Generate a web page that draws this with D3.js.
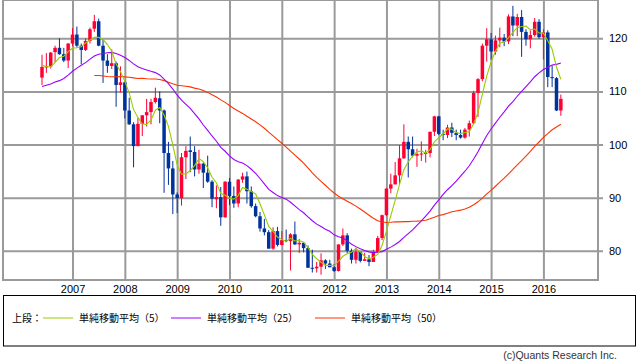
<!DOCTYPE html>
<html><head><meta charset="utf-8">
<script src="https://cdn.jsdelivr.net/npm/d3@7"></script>
<style>body{margin:0;background:#fff}svg{display:block}</style>
</head><body>
<script>
// Monthly USD/JPY candles, Jun 2006 - May 2016
const startMonth = "2006-06-01";
const opens = [112.6,114.6,114.7,117.4,118.2,117.0,115.8,119.0,120.7,118.6,117.8,119.5,121.8,123.2,118.6,115.8,114.8,115.3,111.2,111.7,106.4,103.8,99.7,103.9,105.5,106.1,108.0,108.7,106.4,98.4,95.5,90.6,89.9,97.6,98.9,98.6,95.3,96.4,94.7,93.0,89.7,90.1,86.3,93.0,90.3,88.9,93.4,94.0,91.2,88.4,86.5,84.2,83.5,80.4,83.7,81.1,82.0,81.8,83.1,81.2,81.5,80.5,76.8,76.7,77.0,78.2,77.6,76.9,76.2,81.2,82.9,80.0,78.3,79.8,78.1,78.4,77.9,79.8,82.4,86.7,91.7,92.5,94.2,97.4,100.5,99.1,97.9,98.2,98.3,98.4,102.4,105.3,102.0,101.8,103.2,102.2,101.8,101.3,102.8,104.0,109.7,112.3,118.6,119.8,117.5,119.6,120.1,119.4,124.1,122.4,124.0,121.2,119.8,120.6,123.1,120.2,121.1,112.7,112.5,106.4];
const highs = [116.9,117.2,117.4,118.6,120.0,118.2,119.1,121.9,122.2,119.0,120.0,122.0,124.4,123.7,119.8,117.0,117.9,115.6,114.7,111.9,108.8,104.2,105.0,105.5,108.6,108.6,110.7,110.0,106.6,100.5,96.9,91.0,98.4,99.7,101.5,99.7,99.0,96.6,97.9,93.3,92.3,92.0,93.1,93.7,92.1,93.5,94.7,94.9,92.1,88.9,87.3,86.0,83.9,84.4,84.5,83.7,84.0,83.3,85.5,82.2,81.6,81.0,80.2,77.9,79.5,78.4,78.3,77.5,81.2,84.2,83.3,80.4,80.6,79.9,79.6,79.2,80.2,82.8,86.8,91.8,94.5,96.7,99.9,103.8,101.5,101.5,99.2,100.6,99.0,102.4,105.4,105.4,102.8,103.7,104.1,102.8,102.8,103.1,104.5,110.1,112.5,119.0,121.9,121.0,120.5,122.0,120.8,124.5,126.1,124.6,125.3,121.7,121.5,123.8,123.6,121.7,121.5,114.9,112.7,109.4];
const lows = [111.2,113.5,114.3,115.5,116.9,115.5,114.4,118.5,118.3,115.1,117.6,119.0,121.2,118.5,111.6,113.5,114.2,107.1,109.8,104.9,103.7,95.7,99.7,101.6,103.4,103.8,107.7,104.0,90.9,92.4,86.9,87.1,88.5,93.5,94.8,94.0,94.5,91.8,92.8,88.2,88.0,84.7,86.2,88.6,88.1,88.2,92.8,88.9,88.1,86.3,83.6,82.9,80.4,80.2,80.8,81.0,81.6,76.3,81.1,79.6,79.7,76.8,75.9,75.9,75.5,76.6,76.9,76.0,76.1,80.9,79.6,77.6,77.6,77.8,78.1,77.1,77.9,79.6,82.0,86.5,90.8,92.5,92.5,97.3,93.8,97.6,95.8,96.9,96.6,97.6,101.6,101.8,100.8,101.2,101.4,100.8,101.1,101.1,101.5,103.8,105.2,111.9,115.6,115.9,116.9,118.3,118.5,118.9,120.4,120.4,116.5,118.6,118.1,120.3,119.9,116.0,110.8,110.8,106.3,105.4];
const closes = [114.6,114.7,117.3,118.2,117.0,115.8,119.0,120.7,118.6,117.8,119.5,121.7,123.2,118.6,115.8,114.8,115.3,111.2,111.7,106.4,103.8,99.7,103.9,105.5,106.1,108.0,108.8,106.4,98.4,95.5,90.6,89.9,97.6,98.8,98.6,95.3,96.4,94.7,93.0,89.8,90.1,86.3,93.0,90.3,88.9,93.4,94.0,91.2,88.4,86.5,84.2,83.5,80.4,83.7,81.1,82.0,81.8,83.1,81.2,81.5,80.5,76.8,76.7,77.0,78.2,77.6,76.9,76.2,81.2,82.9,80.0,78.3,79.8,78.1,78.4,77.9,79.8,82.4,86.7,91.7,92.5,94.2,97.4,100.5,99.1,97.9,98.2,98.3,98.4,102.4,105.3,102.0,101.8,103.2,102.2,101.8,101.3,102.8,104.0,109.7,112.3,118.6,119.8,117.5,119.6,120.1,119.4,124.1,122.4,124.0,121.2,119.8,120.6,123.1,120.2,121.1,112.7,112.5,106.4,108.6];
// closes before the visible window (May 2003 - May 2006), used by the moving averages
const priorCloses = [119.3,119.8,120.5,116.9,111.4,109.9,109.6,107.2,105.9,109.1,104.2,110.4,109.5,108.8,111.3,109.2,110.2,105.8,103.1,102.6,103.6,104.6,107.1,104.9,108.4,110.9,112.4,111.0,113.3,116.4,119.8,117.8,117.2,115.8,117.7,113.8,112.6];
const priceTicks = [80, 90, 100, 110, 120];
const maPeriods = [5, 25, 50];
const maColors = ["#99cc00", "#9900ff", "#ff3300"];
const legendLabels = ["単純移動平均（5）", "単純移動平均（25）", "単純移動平均（50）"];
const legendTitle = "上段：";
const copyright = "(c)Quants Research Inc.";

const W = 638, H = 362;
const plot = {left: 3, right: 598, top: 0, bottom: 280};
const svg = d3.select("body").append("svg").attr("width", W).attr("height", H);

const n = closes.length;
const dates = d3.range(n).map(i => d3.timeMonth.offset(new Date(startMonth + "T00:00:00"), i));
const candles = d3.range(n).map(i => ({i, date: dates[i], o: opens[i], h: highs[i], l: lows[i], c: closes[i]}));

const x = d3.scaleLinear().domain([-8.945, 127.52]).range([plot.left, plot.right]);
const y = d3.scaleLinear().domain([74.5, 127.2]).range([plot.bottom, plot.top]);

const yearIdx = candles.filter(d => d.date.getMonth() === 0).map(d => d.i);

const grid = "#9a9a9a";
const yAxis = d3.axisRight(y).tickValues(priceTicks).tickSize(0).tickSizeOuter(0);
const gy = svg.append("g").attr("transform", `translate(${plot.right + 5},0)`).call(yAxis);
gy.select(".domain").remove();
gy.selectAll(".tick line").attr("stroke", grid).attr("stroke-width", 2)
  .attr("x1", 0).attr("x2", -(plot.right + 5 - plot.left));
gy.selectAll(".tick text").attr("x", 6).attr("fill", "#000").attr("font-family", "Liberation Sans, Arial, sans-serif").attr("font-size", 11);

const xAxis = d3.axisBottom(x).tickValues(yearIdx).tickSize(-(plot.bottom - plot.top)).tickSizeOuter(0)
  .tickFormat(i => d3.timeFormat("%Y")(dates[i]));
const gx = svg.append("g").attr("transform", `translate(0,${plot.bottom})`).call(xAxis);
gx.select(".domain").remove();
gx.selectAll(".tick line").attr("stroke", grid).attr("stroke-width", 2);
gx.selectAll(".tick text").attr("y", 5).attr("fill", "#000").attr("font-family", "Liberation Sans, Arial, sans-serif").attr("font-size", 11);

svg.append("path").attr("d", `M${plot.left},${plot.top}H${plot.right}V${plot.bottom}H${plot.left}Z`)
  .attr("fill", "none").attr("stroke", grid).attr("stroke-width", 2);

const up = "#ff0033", down = "#003399";
const cw = 3.5;
const gc = svg.append("g");
gc.selectAll("line").data(candles).join("line")
  .attr("x1", d => x(d.i)).attr("x2", d => x(d.i))
  .attr("y1", d => y(d.h)).attr("y2", d => y(d.l))
  .attr("stroke", d => d.c >= d.o ? up : down).attr("stroke-width", 1);
gc.selectAll("rect").data(candles).join("rect")
  .attr("x", d => x(d.i) - cw / 2).attr("width", cw)
  .attr("y", d => y(Math.max(d.o, d.c)))
  .attr("height", d => Math.max(1, Math.abs(y(d.o) - y(d.c))))
  .attr("fill", d => d.c >= d.o ? up : down);

const all = priorCloses.concat(closes);
const off = priorCloses.length;
function sma(p) {
  return d3.range(n).map(i => {
    const e = i + off;
    if (e - p + 1 < 0) return null;
    return {i, v: d3.mean(all.slice(e - p + 1, e + 1))};
  }).filter(d => d);
}
const line = d3.line().x(d => x(d.i)).y(d => y(d.v));
[2, 1, 0].forEach(k => {
  svg.append("path").datum(sma(maPeriods[k])).attr("d", line)
    .attr("fill", "none").attr("stroke", maColors[k]).attr("stroke-width", 1.1);
});

svg.append("rect").attr("x", 3.5).attr("y", 295.5).attr("width", 632).attr("height", 50.5)
  .attr("fill", "none").attr("stroke", "#000").attr("stroke-width", 1);
const lf = "'Noto Sans CJK JP', sans-serif";
svg.append("text").attr("x", 12).attr("y", 322).attr("font-family", lf).attr("font-size", 10).text(legendTitle);
const legX = [43, 171, 315];
legendLabels.forEach((t, k) => {
  svg.append("line").attr("x1", legX[k]).attr("x2", legX[k] + 30).attr("y1", 318).attr("y2", 318)
    .attr("stroke", maColors[k]).attr("stroke-width", 1);
  svg.append("text").attr("x", legX[k] + 36).attr("y", 322).attr("font-family", lf).attr("font-size", 10).text(t);
});
svg.append("text").attr("x", 617).attr("y", 359).attr("text-anchor", "end")
  .attr("font-family", "Liberation Sans, Arial, sans-serif").attr("font-size", 10.5).attr("fill", "#333").text(copyright);
</script>
</body></html>
